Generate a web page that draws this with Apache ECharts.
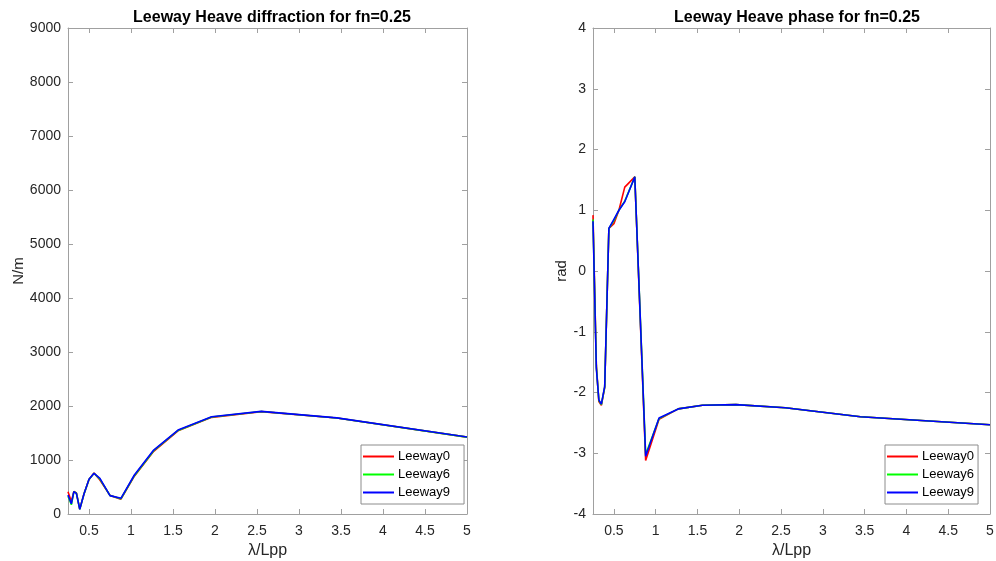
<!DOCTYPE html>
<html><head><meta charset="utf-8">
<script src="https://cdn.jsdelivr.net/npm/echarts@6/dist/echarts.min.js"></script>
<style>html,body{margin:0;padding:0;background:#fff}#c{width:996px;height:561px}</style>
</head><body><div id="c"></div>
<script>
const lambda = [0.25, 0.29, 0.32, 0.35, 0.39, 0.44, 0.50, 0.56, 0.63, 0.75, 0.88, 1.04, 1.27, 1.56, 1.96, 2.55, 3.45, 5.0];
const diffLeeway0 = [413, 230, 420, 390, 90, 370, 640, 760, 630, 345, 275, 700, 1160, 1540, 1790, 1895, 1778, 1423];
const diffLeeway6 = [330, 170, 415, 385, 88, 368, 641, 755, 645, 342, 282, 710, 1172, 1548, 1796, 1898, 1779, 1424];
const diffLeeway9 = [352, 190, 413, 383, 87, 370, 642, 753, 660, 340, 290, 722, 1185, 1555, 1802, 1900, 1780, 1425];
const phaseLeeway0 = [0.92, -1.55, -2.15, -2.21, -1.92, 0.70, 0.78, 1.00, 1.38, 1.55, -3.12, -2.44, -2.27, -2.21, -2.20, -2.25, -2.40, -2.53];
const phaseLeeway6 = [0.85, -1.58, -2.13, -2.20, -1.91, 0.70, 0.83, 1.00, 1.15, 1.55, -3.02, -2.43, -2.27, -2.21, -2.20, -2.25, -2.40, -2.53];
const phaseLeeway9 = [0.82, -1.60, -2.12, -2.19, -1.90, 0.70, 0.85, 1.00, 1.14, 1.55, -3.05, -2.42, -2.27, -2.21, -2.20, -2.25, -2.40, -2.53];
const seriesNames = ['Leeway0', 'Leeway6', 'Leeway9'];
const colors = ['#ff0000', '#00ff00', '#0000ff'];
const xTicks = [0.5, 1, 1.5, 2, 2.5, 3, 3.5, 4, 4.5, 5];
const titles = ['Leeway Heave diffraction for fn=0.25', 'Leeway Heave phase for fn=0.25'];

const font = 'Liberation Sans, Arial, Helvetica, sans-serif';
const axisCol = '#a0a0a0';
const txtCol = '#262626';
const pairs = ys => lambda.map((x, i) => [x, ys[i]]);

function xAx(gi, top) {
  return {
    type: 'value', gridIndex: gi, min: 0.25, max: 5, position: top ? 'top' : 'bottom',
    name: top ? '' : 'λ/Lpp', nameLocation: 'middle', nameGap: 28,
    nameTextStyle: { color: txtCol, fontSize: 16, fontFamily: font },
    axisLine: { show: true, onZero: false, lineStyle: { color: axisCol, width: 1 } },
    axisTick: { show: true, inside: true, length: 5, customValues: xTicks, lineStyle: { color: axisCol } },
    axisLabel: { show: !top, customValues: xTicks, color: txtCol, fontSize: 14, fontFamily: font, margin: 10,
      formatter: v => String(v) },
    splitLine: { show: false }
  };
}
function yAx(gi, right, min, max, interval, name) {
  return {
    type: 'value', gridIndex: gi, min, max, interval, position: right ? 'right' : 'left',
    name: right ? '' : name, nameLocation: 'middle', nameGap: right ? 0 : (gi === 0 ? 40 : 23),
    nameTextStyle: { color: txtCol, fontSize: 15, fontFamily: font },
    axisLine: { show: true, onZero: false, lineStyle: { color: axisCol, width: 1 } },
    axisTick: { show: true, inside: true, length: 5, lineStyle: { color: axisCol } },
    axisLabel: { show: !right, color: txtCol, fontSize: 14, fontFamily: font, margin: 7,
      formatter: v => String(v) },
    splitLine: { show: false }
  };
}

const diffData = [diffLeeway0, diffLeeway6, diffLeeway9];
const phaseData = [phaseLeeway0, phaseLeeway6, phaseLeeway9];
const series = [];
[diffData, phaseData].forEach((set, gi) => {
  set.forEach((ys, k) => {
    series.push({
      type: 'line', name: seriesNames[k], xAxisIndex: gi * 2, yAxisIndex: gi * 2,
      data: pairs(ys), showSymbol: false, symbol: 'none', animation: false,
      lineStyle: { color: colors[k], width: 1.6 }, itemStyle: { color: colors[k] }
    });
  });
});

function legend(left, padRight) {
  return {
    data: seriesNames, orient: 'vertical', left, top: 445, itemGap: 5,
    itemWidth: 31, itemHeight: 2, icon: 'rect',
    padding: [5, padRight, 5, 2], backgroundColor: '#fff', borderColor: '#8c8c8c', borderWidth: 1,
    textStyle: { color: '#000', fontSize: 13, fontFamily: font, padding: [0, 0, 0, -1] }, selectedMode: false
  };
}

const chart = echarts.init(document.getElementById('c'), null, { renderer: 'canvas' });
chart.setOption({
  backgroundColor: '#fff',
  animation: false,
  title: [
    { text: titles[0], left: 267, top: 5, textAlign: 'center', textStyle: { fontSize: 16, fontWeight: 'bold', color: '#000', fontFamily: font } },
    { text: titles[1], left: 792, top: 5, textAlign: 'center', textStyle: { fontSize: 16, fontWeight: 'bold', color: '#000', fontFamily: font } }
  ],
  grid: [
    { left: 68, top: 28, width: 399, height: 486, show: false, containLabel: false, outerBoundsMode: 'none' },
    { left: 593, top: 28, width: 397, height: 486, show: false, containLabel: false, outerBoundsMode: 'none' }
  ],
  xAxis: [xAx(0, false), xAx(0, true), xAx(1, false), xAx(1, true)],
  yAxis: [
    yAx(0, false, 0, 9000, 1000, 'N/m'), yAx(0, true, 0, 9000, 1000, ''),
    yAx(1, false, -4, 4, 1, 'rad'), yAx(1, true, -4, 4, 1, '')
  ],
  legend: [legend(361, 14), legend(885, 4)],
  series
});
</script></body></html>
